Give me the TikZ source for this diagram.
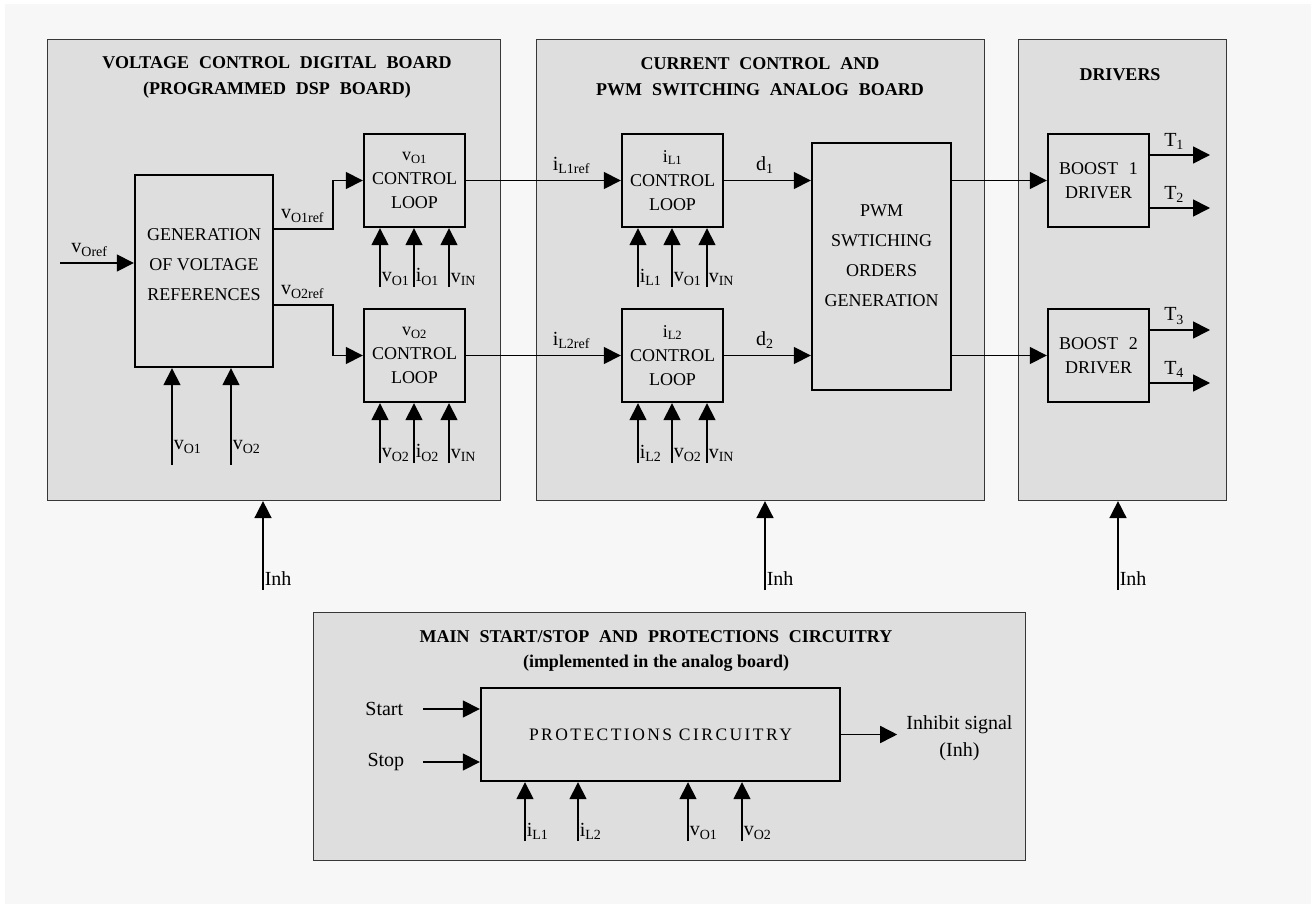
\documentclass[tikz,border=0pt]{standalone}
\usepackage{fontspec}
\setmainfont{Liberation Serif}
\newfontfamily\widefont[WordSpace=2.2]{Liberation Serif}
\newfontfamily\spacedfont[LetterSpace=14]{Liberation Serif}
\usetikzlibrary{arrows.meta, positioning}
\definecolor{boardgray}{RGB}{222,222,222}
\definecolor{pagegray}{RGB}{247,247,247}
\definecolor{edgegray}{RGB}{55,55,55}
\newcommand{\sg}[2]{#1\textsubscript{#2}}
\tikzstyle{board} = [rectangle, draw=edgegray, line width=1.1pt, fill=boardgray, anchor=north west, inner sep=0pt]
\tikzstyle{boardtitle} = [font=\fontsize{18}{26}\selectfont\widefont\bfseries, align=center, inner sep=0pt]
\tikzstyle{block} = [rectangle, draw=black, line width=2.4pt, fill=boardgray, align=center, inner sep=0pt, minimum width=101pt, minimum height=93pt, font=\fontsize{18}{24}\selectfont]
\tikzstyle{line} = [draw, line width=1.6pt, -{Triangle[length=17pt,width=17pt]}]
\tikzstyle{lbl} = [font=\fontsize{20}{23}\selectfont, inner sep=1pt]

\begin{document}
\begin{tikzpicture}[x=1pt, y=-1pt]
\useasboundingbox (0,0) rectangle (1311,904);
\fill[white] (0,0) rectangle (1311,904);
\fill[pagegray] (5,4) rectangle (1311,904);

% Boards
\node (vboard) [board, minimum width=453pt, minimum height=461pt] at (47,39) {};
\node (cboard) [board, minimum width=448pt, minimum height=461pt] at (536,39) {};
\node (dboard) [board, minimum width=208pt, minimum height=461pt] at (1018,39) {};
\node (pboard) [board, minimum width=712pt, minimum height=248pt] at (313,612) {};

\node (vtitle) [boardtitle] at (277,77) {VOLTAGE CONTROL DIGITAL BOARD\\(PROGRAMMED DSP BOARD)};
\node (ctitle) [boardtitle] at (760,77) {CURRENT CONTROL AND\\PWM SWITCHING ANALOG BOARD};
\node (dtitle) [boardtitle] at (1120,75) {DRIVERS};
\node (ptitle) [boardtitle] at (656,637) {MAIN START/STOP AND PROTECTIONS CIRCUITRY};
\node (psub) [font=\fontsize{18}{22}\selectfont\bfseries, inner sep=0pt] at (656,663) {(implemented in the analog board)};

% Blocks
\node (gen) [block, minimum width=138pt, minimum height=192pt,
  label={[font=\fontsize{18}{30}\selectfont, align=center, yshift=6pt]center:GENERATION\\OF VOLTAGE\\REFERENCES}] at (204,271) {};
\node (vloop1) [block] at (414.5,180.5) {\sg{v}{O1}\\CONTROL\\LOOP};
\node (vloop2) [block] at (414.5,355.5) {\sg{v}{O2}\\CONTROL\\LOOP};
\node (iloop1) [block] at (672.5,180.5) {\sg{i}{L1}\\CONTROL\\LOOP};
\node (iloop2) [block] at (672.5,355.5) {\sg{i}{L2}\\CONTROL\\LOOP};
\node (pwm) [block, minimum width=139pt, minimum height=247pt,
  label={[font=\fontsize{18}{30}\selectfont, align=center, yshift=11pt]center:PWM\\SWTICHING\\ORDERS\\GENERATION}] at (881.5,266.5) {};
\node (drv1) [block] at (1098.5,180.5) {BOOST\hspace{0.6em}1\\DRIVER};
\node (drv2) [block] at (1098.5,355.5) {BOOST\hspace{0.6em}2\\DRIVER};
\node (prot) [block, minimum width=359pt, minimum height=93pt, font=\fontsize{17.5}{20}\selectfont\spacedfont] at (660.5,734.5) {PROTECTIONS CIRCUITRY};

% Main signal path
\coordinate (voref) at (60,263);
\draw[line] (voref) -- node[lbl, above=5pt, pos=0.4] {\sg{v}{Oref}} (voref -| gen.west);
\draw[line] ([yshift=42pt]gen.east) node[lbl, above right=5pt and 5pt] {\sg{v}{O1ref}} -- ++(59,0) |- (vloop1.west);
\draw[line] ([yshift=-34pt]gen.east) node[lbl, above right=5pt and 5pt] {\sg{v}{O2ref}} -- ++(59,0) |- (vloop2.west);
\draw[line] (vloop1.east) -- node[lbl, above=5pt, pos=0.68] {\sg{i}{L1ref}} (iloop1.west);
\draw[line] (vloop2.east) -- node[lbl, above=5pt, pos=0.68] {\sg{i}{L2ref}} (iloop2.west);
\draw[line] (iloop1.east) -- node[lbl, above=5pt, pos=0.47] {d\textsubscript{1}} (iloop1.east -| pwm.west);
\draw[line] (iloop2.east) -- node[lbl, above=5pt, pos=0.47] {d\textsubscript{2}} (iloop2.east -| pwm.west);
\draw[line] (drv1.west -| pwm.east) -- (drv1.west);
\draw[line] (drv2.west -| pwm.east) -- (drv2.west);

% Driver outputs
\coordinate (t1) at (1210,155);
\coordinate (t2) at (1210,208);
\coordinate (t3) at (1210,330);
\coordinate (t4) at (1210,383);
\draw[line] (t1 -| drv1.east) -- node[lbl, above=4pt, pos=0.4] {T\textsubscript{1}} (t1);
\draw[line] (t2 -| drv1.east) -- node[lbl, above=4pt, pos=0.4] {T\textsubscript{2}} (t2);
\draw[line] (t3 -| drv2.east) -- node[lbl, above=4pt, pos=0.4] {T\textsubscript{3}} (t3);
\draw[line] (t4 -| drv2.east) -- node[lbl, above=4pt, pos=0.4] {T\textsubscript{4}} (t4);

% Measured inputs
\coordinate (g1) at (172,465);
\coordinate (g2) at (231,465);
\draw[line] (g1) node[lbl, anchor=south west, yshift=10pt] {\sg{v}{O1}} -- (g1 |- gen.south);
\draw[line] (g2) node[lbl, anchor=south west, yshift=10pt] {\sg{v}{O2}} -- (g2 |- gen.south);

\coordinate (a1) at (380,287);
\coordinate (a2) at (414,287);
\coordinate (a3) at (449,287);
\draw[line] (a1) node[lbl, anchor=south west] {\sg{v}{O1}} -- (a1 |- vloop1.south);
\draw[line] (a2) node[lbl, anchor=south west] {\sg{i}{O1}} -- (a2 |- vloop1.south);
\draw[line] (a3) node[lbl, anchor=south west] {\sg{v}{IN}} -- (a3 |- vloop1.south);
\coordinate (b1) at (380,463);
\coordinate (b2) at (414,463);
\coordinate (b3) at (449,463);
\draw[line] (b1) node[lbl, anchor=south west] {\sg{v}{O2}} -- (b1 |- vloop2.south);
\draw[line] (b2) node[lbl, anchor=south west] {\sg{i}{O2}} -- (b2 |- vloop2.south);
\draw[line] (b3) node[lbl, anchor=south west] {\sg{v}{IN}} -- (b3 |- vloop2.south);

\coordinate (c1) at (638,287);
\coordinate (c2) at (672,287);
\coordinate (c3) at (707,287);
\draw[line] (c1) node[lbl, anchor=south west] {\sg{i}{L1}} -- (c1 |- iloop1.south);
\draw[line] (c2) node[lbl, anchor=south west] {\sg{v}{O1}} -- (c2 |- iloop1.south);
\draw[line] (c3) node[lbl, anchor=south west] {\sg{v}{IN}} -- (c3 |- iloop1.south);
\coordinate (e1) at (638,463);
\coordinate (e2) at (672,463);
\coordinate (e3) at (707,463);
\draw[line] (e1) node[lbl, anchor=south west] {\sg{i}{L2}} -- (e1 |- iloop2.south);
\draw[line] (e2) node[lbl, anchor=south west] {\sg{v}{O2}} -- (e2 |- iloop2.south);
\draw[line] (e3) node[lbl, anchor=south west] {\sg{v}{IN}} -- (e3 |- iloop2.south);

% Inhibit lines
\coordinate (inh1) at (263,590);
\coordinate (inh2) at (765,590);
\coordinate (inh3) at (1118,590);
\draw[line] (inh1) node[lbl, anchor=south west, yshift=3pt] {Inh} -- (inh1 |- vboard.south);
\draw[line] (inh2) node[lbl, anchor=south west, yshift=3pt] {Inh} -- (inh2 |- cboard.south);
\draw[line] (inh3) node[lbl, anchor=south west, yshift=3pt] {Inh} -- (inh3 |- dboard.south);

% Protections
\coordinate (start) at (423,709);
\coordinate (stop) at (423,762);
\draw[line] (start) node[lbl, left=18pt] {Start} -- (start -| prot.west);
\draw[line] (stop) node[lbl, left=17pt] {Stop} -- (stop -| prot.west);
\draw[line] (prot.east) -- ++(56,0) coordinate (inhout);
\node (inhlbl) [lbl, align=center, font=\fontsize{20}{27}\selectfont, right=8pt of inhout, yshift=-4pt] {Inhibit signal\\(Inh)};

\coordinate (p1) at (525,841);
\coordinate (p2) at (578,841);
\coordinate (p3) at (688,841);
\coordinate (p4) at (742,841);
\draw[line] (p1) node[lbl, anchor=south west] {\sg{i}{L1}} -- (p1 |- prot.south);
\draw[line] (p2) node[lbl, anchor=south west] {\sg{i}{L2}} -- (p2 |- prot.south);
\draw[line] (p3) node[lbl, anchor=south west] {\sg{v}{O1}} -- (p3 |- prot.south);
\draw[line] (p4) node[lbl, anchor=south west] {\sg{v}{O2}} -- (p4 |- prot.south);

\end{tikzpicture}
\end{document}
